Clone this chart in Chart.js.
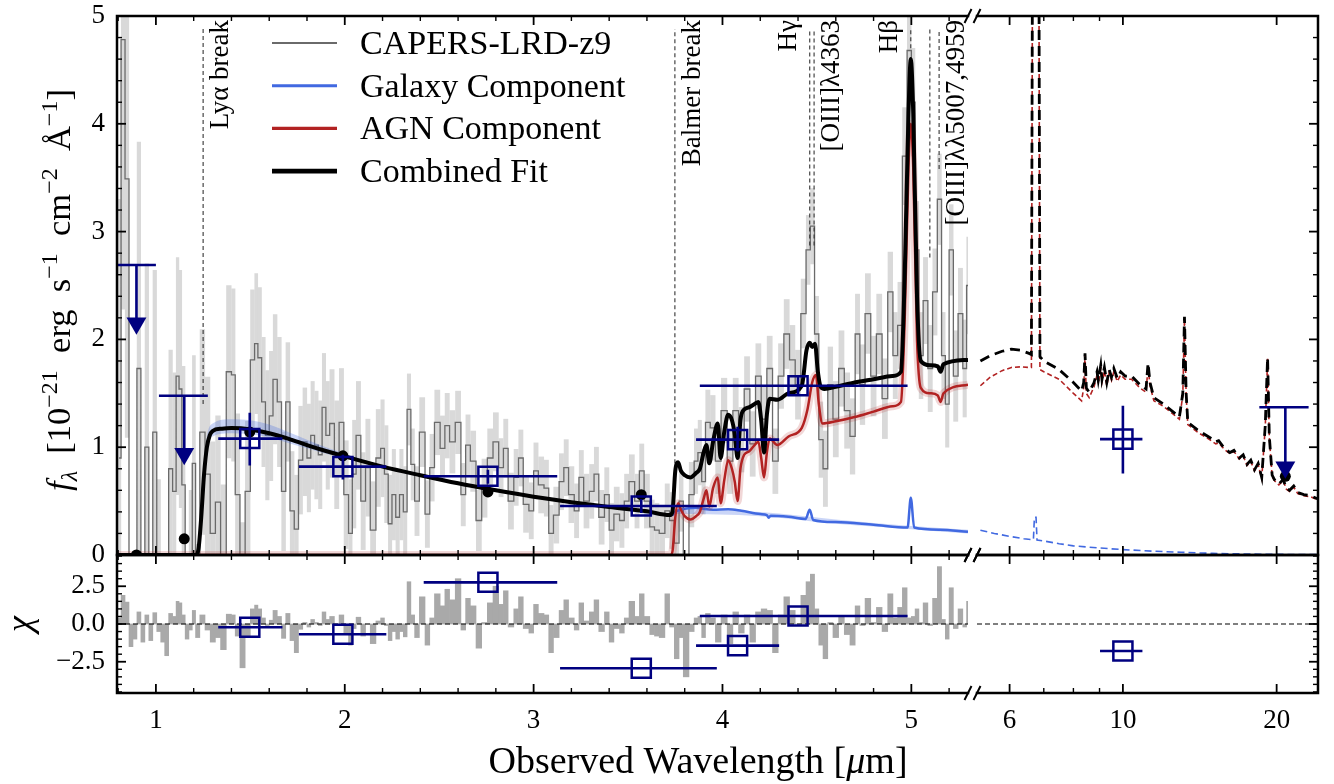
<!DOCTYPE html>
<html>
<head>
<meta charset="utf-8">
<script src="https://cdn.jsdelivr.net/npm/chart.js@4.4.1/dist/chart.umd.min.js"></script>
<style>
  html, body { margin: 0; padding: 0; background: #fff; }
  #wrap { position: relative; width: 1334px; height: 784px; }
  #wrap canvas { position: absolute; left: 0; top: 0; }
</style>
</head>
<body>
<div id="wrap">
  <canvas id="specTop" width="1334" height="784"></canvas>
  <canvas id="miriTop" width="1334" height="784"></canvas>
  <canvas id="specRes" width="1334" height="784"></canvas>
  <canvas id="miriRes" width="1334" height="784"></canvas>
</div>
<script>
// ---- prism spectrum (um, 1e-21 erg/s/cm2/A) ----
const specLam = [
  0.805, 0.826, 0.847, 0.868, 0.889, 0.910, 0.931, 0.952, 0.973, 0.994,
  1.015, 1.036, 1.057, 1.078, 1.099, 1.115, 1.130, 1.145, 1.165, 1.185,
  1.200, 1.220, 1.245, 1.275, 1.300, 1.330, 1.355, 1.390, 1.410, 1.430,
  1.460, 1.485, 1.515, 1.530, 1.550, 1.570, 1.590, 1.610, 1.630, 1.655,
  1.675, 1.700, 1.720, 1.745, 1.765, 1.790, 1.810, 1.830, 1.850, 1.870,
  1.890, 1.910, 1.930, 1.960, 1.980, 2.010, 2.030, 2.050, 2.070, 2.100,
  2.120, 2.150, 2.180, 2.200, 2.220, 2.240, 2.260, 2.280, 2.300, 2.320,
  2.340, 2.360, 2.380, 2.410, 2.440, 2.460, 2.490, 2.520, 2.540, 2.570,
  2.600, 2.630, 2.650, 2.680, 2.710, 2.740, 2.770, 2.800, 2.830, 2.850,
  2.880, 2.910, 2.930, 2.960, 2.990, 3.010, 3.040, 3.070, 3.090, 3.120,
  3.150, 3.170, 3.200, 3.230, 3.250, 3.280, 3.310, 3.330, 3.360, 3.390,
  3.410, 3.440, 3.470, 3.490, 3.520, 3.550, 3.570, 3.600, 3.630, 3.650,
  3.680, 3.710, 3.730, 3.760, 3.780, 3.805, 3.840, 3.860, 3.880, 3.900,
  3.920, 3.950, 3.975, 4.010, 4.040, 4.070, 4.100, 4.130, 4.160, 4.190,
  4.220, 4.250, 4.280, 4.310, 4.340, 4.370, 4.400, 4.430, 4.455, 4.475,
  4.500, 4.520, 4.545, 4.570, 4.600, 4.630, 4.660, 4.690, 4.715, 4.740,
  4.770, 4.800, 4.830, 4.860, 4.890, 4.915, 4.940, 4.965, 4.990, 5.010,
  5.030, 5.050, 5.075, 5.100, 5.125, 5.150, 5.170, 5.190, 5.210, 5.235,
  5.260, 5.285, 5.300
];
const specFlux = [
  0.90, 4.78, 3.49, -3.00, -1.80, 1.73, -2.20, 1.00, -1.70, 1.14,
  -0.60, -1.50, -2.50, 0.80, 0.59, 1.66, 1.54, 0.65, -1.10, -0.40,
  0.85, -0.90, 1.14, 0.75, 0.20, 0.49, -0.10, 1.70, 1.67, 0.56,
  -0.40, 0.59, 1.81, 1.96, 1.83, 1.42, 1.11, 1.29, 1.63, 1.42,
  0.59, 1.42, 0.41, 0.24, 0.88, 1.05, 0.90, 1.11, 1.02, 0.93,
  1.37, 1.11, 1.22, 0.93, 1.23, 0.56, 0.20, 0.75, 1.11, 0.50,
  0.81, 0.23, 0.90, 0.99, 0.75, 0.29, 0.56, 0.35, 0.56, 0.40,
  1.35, 0.84, 0.50, 1.14, 0.38, 0.81, 1.23, 0.99, 1.20, 1.05,
  1.23, 0.56, 1.02, 0.87, 0.32, 0.62, 0.90, 1.05, 0.81, 0.99,
  0.50, 0.72, 0.90, 0.47, 0.41, 0.78, 0.65, 0.62, 0.20, 0.37,
  0.68, 0.81, 0.56, 0.41, 0.72, 0.50, 0.59, 0.75, 0.35, 0.56,
  0.23, 0.38, 0.32, 0.50, 0.68, 0.50, 0.78, 0.50, 0.26, 0.23,
  0.20, 0.41, 0.32, 0.11, 0.50, -0.30, 0.56, 0.87, 0.95, 0.68,
  1.23, 1.18, 0.87, 1.34, 0.87, 1.34, 1.07, 1.54, 1.03, 1.66,
  1.26, 1.73, 0.87, 1.66, 2.05, 1.81, 1.58, 2.24, 2.83, 3.05,
  2.05, 1.07, 0.80, 1.58, 1.26, 1.73, 1.34, 1.10, 2.05, 1.58,
  2.24, 1.66, 2.05, 1.45, 2.44, 1.85, 2.13, 3.70, 4.68, 4.20,
  2.83, 1.85, 2.36, 1.73, 2.44, 3.30, 1.85, 1.40, 2.83, 1.66,
  2.24, 1.73, 2.50
];
const specErr = [
  2.4, 2.5, 2.4, 2.0, 1.8, 2.1, 1.8, 1.7, 1.5, 1.5,
  1.3, 1.3, 1.2, 1.1, 1.1, 1.1, 1.1, 1.1, 1.1, 1.0,
  1.0, 1.0, 0.95, 0.9, 0.85, 0.8, 0.75, 0.8, 0.8, 0.75,
  0.7, 0.65, 0.65, 0.65, 0.65, 0.6, 0.6, 0.6, 0.6, 0.6,
  0.55, 0.55, 0.55, 0.5, 0.5, 0.5, 0.5, 0.5, 0.5, 0.5,
  0.5, 0.5, 0.5, 0.5, 0.5, 0.5, 0.5, 0.5, 0.5, 0.45,
  0.45, 0.45, 0.45, 0.45, 0.45, 0.45, 0.42, 0.42, 0.42, 0.42,
  0.33, 0.33, 0.32, 0.32, 0.31, 0.31, 0.30, 0.30, 0.30, 0.29,
  0.29, 0.29, 0.28, 0.28, 0.28, 0.27, 0.27, 0.27, 0.27, 0.27,
  0.26, 0.26, 0.26, 0.26, 0.26, 0.26, 0.26, 0.26, 0.26, 0.26,
  0.26, 0.26, 0.26, 0.25, 0.25, 0.25, 0.25, 0.25, 0.25, 0.25,
  0.25, 0.25, 0.25, 0.25, 0.25, 0.25, 0.25, 0.25, 0.25, 0.25,
  0.25, 0.25, 0.26, 0.28, 0.28, 0.30, 0.30, 0.30, 0.30, 0.30,
  0.30, 0.30, 0.30, 0.30, 0.30, 0.30, 0.30, 0.30, 0.30, 0.30,
  0.30, 0.30, 0.30, 0.30, 0.32, 0.32, 0.32, 0.32, 0.32, 0.35,
  0.35, 0.35, 0.35, 0.35, 0.35, 0.35, 0.35, 0.35, 0.37, 0.37,
  0.37, 0.37, 0.37, 0.37, 0.37, 0.40, 0.40, 0.45, 0.50, 0.50,
  0.45, 0.40, 0.40, 0.40, 0.40, 0.42, 0.40, 0.40, 0.42, 0.42,
  0.42, 0.45, 0.45
];
const specChi = [
  0.4, 1.9, 1.45, -1.5, -1.0, 0.8, -1.2, 0.6, -1.1, 0.75,
  -0.5, -1.2, -2.1, 0.7, 0.5, 1.5, 1.4, 0.6, -1.0, -0.4,
  0.9, -0.9, 0.6, -0.4, -1.2, -0.9, -1.7, 0.65, 0.6, -0.8,
  -2.9, -0.9, 1.0, 1.25, 1.0, 0.4, -0.1, 0.25, 0.9, 0.5,
  -0.95, 0.7, -1.1, -1.9, -0.35, 0.1, -0.2, 0.3, 0.1, -0.1,
  0.8, 0.3, 0.5, 0.0, 0.6, -0.7, -1.4, -0.3, 0.45, -0.8,
  0.0, -1.3, 0.2, 0.4, -0.1, -1.1, -0.5, -1.0, -0.5, -0.85,
  2.8, 0.6, -0.9, 1.8, -1.4, 0.4, 2.0, 1.2, 2.3, 1.6,
  3.0, -0.4, 1.7, 1.2, -1.6, 0.1, 1.4, 2.5, 1.3, 2.2,
  -0.2, 1.0, 1.8, -0.3, -0.6, 1.3, 0.7, 0.6, -1.9, -0.9,
  0.9, 1.6, 0.4, -0.4, 1.4, 0.2, 0.8, 1.6, -0.5, 0.8,
  -1.2, -0.3, -0.6, 0.4, 1.5, 0.5, 2.0, 0.5, -0.7, -0.8,
  -0.9, 2.0, -0.2, -2.3, -0.9, -3.5, -0.5, 0.4, 0.5, -0.9,
  0.7, 0.4, -1.2, 0.6, -1.3, 0.8, -0.6, 0.6, -1.2, 0.8,
  1.0, 0.9, -1.9, 0.6, 1.8, 0.9, 0.0, 1.9, 2.8, 3.3,
  1.0, -1.4, -2.3, 0.1, -0.9, 0.5, -0.7, -1.4, 1.2, -0.1,
  1.7, 0.1, 1.1, -0.5, 2.0, 0.4, 1.1, 2.4, 0.4, 0.5,
  1.0, 0.1, 1.4, -0.1, 1.7, 3.8, 0.3, -1.0, 2.4, -0.3,
  1.0, -0.2, 1.5
];

// ---- SED model components on the prism range ----
const galLam = [0.794, 1.21, 1.225, 1.24, 1.255, 1.27, 1.285, 1.30, 1.35, 1.40, 1.45, 1.50, 1.60, 1.70, 1.80, 1.90,
  2.00, 2.20, 2.40, 2.60, 2.80, 3.00, 3.20, 3.40, 3.60, 3.72, 3.735, 3.75, 3.80, 3.86, 3.95, 4.03, 4.10, 4.20,
  4.235, 4.245, 4.255, 4.35, 4.44, 4.462, 4.48, 4.60, 4.80, 4.98, 4.997, 5.015, 5.15, 5.30];
const galFlux = [0, 0, 0.05, 0.35, 0.75, 1.0, 1.11, 1.15, 1.172, 1.178, 1.176, 1.165, 1.13, 1.08, 1.02, 0.965,
  0.915, 0.82, 0.74, 0.665, 0.60, 0.54, 0.49, 0.445, 0.405, 0.37, 0.37, 0.40, 0.43, 0.435, 0.42, 0.425, 0.41, 0.38,
  0.37, 0.345, 0.365, 0.355, 0.335, 0.42, 0.325, 0.305, 0.28, 0.255, 0.53, 0.255, 0.235, 0.215];
const galBandLam = [1.255, 1.27, 1.30, 1.40, 1.50, 1.60, 1.70, 1.80, 1.90, 2.00, 2.20, 2.60, 3.00, 3.40, 3.72, 3.75, 4.20, 4.60, 5.00, 5.30];
const galBandHi = [0.85, 1.10, 1.22, 1.26, 1.25, 1.21, 1.14, 1.07, 1.00, 0.94, 0.835, 0.675, 0.55, 0.455, 0.38, 0.42, 0.40, 0.33, 0.27, 0.235];
const galBandLo = [0.70, 0.98, 1.10, 1.13, 1.12, 1.09, 1.04, 0.99, 0.94, 0.90, 0.805, 0.655, 0.53, 0.435, 0.36, 0.38, 0.36, 0.29, 0.24, 0.20];

const agnLam = [0.794, 3.725, 3.735, 3.75, 3.765, 3.78, 3.80, 3.83, 3.86, 3.88, 3.90, 3.915, 3.93, 3.95, 3.975, 3.99,
  4.01, 4.03, 4.05, 4.065, 4.08, 4.095, 4.115, 4.14, 4.17, 4.19, 4.205, 4.22, 4.235, 4.25, 4.29, 4.35, 4.42, 4.45,
  4.475, 4.495, 4.51, 4.53, 4.60, 4.70, 4.80, 4.90, 4.945, 4.965, 4.985, 4.997, 5.01, 5.03, 5.05, 5.10, 5.14,
  5.155, 5.17, 5.30];
const agnFlux = [0, 0, 0.03, 0.35, 0.48, 0.42, 0.36, 0.33, 0.36, 0.40, 0.52, 0.60, 0.45, 0.62, 0.72, 0.48,
  0.70, 0.88, 0.80, 0.68, 0.50, 0.80, 0.93, 0.96, 1.02, 1.05, 0.90, 0.72, 0.95, 1.08, 1.02, 1.10, 1.18, 1.35,
  1.60, 1.67, 1.40, 1.22, 1.24, 1.28, 1.33, 1.38, 1.42, 2.2, 3.6, 4.0, 3.6, 2.0, 1.55, 1.50, 1.48,
  1.42, 1.50, 1.58];

const totLam = [0.794, 1.21, 1.225, 1.24, 1.255, 1.27, 1.285, 1.30, 1.35, 1.40, 1.45, 1.50, 1.60, 1.70, 1.80, 1.90,
  2.00, 2.20, 2.40, 2.60, 2.80, 3.00, 3.20, 3.40, 3.60, 3.72, 3.735, 3.75, 3.765, 3.78, 3.80, 3.83, 3.86, 3.88,
  3.90, 3.915, 3.93, 3.95, 3.975, 3.99, 4.01, 4.03, 4.05, 4.065, 4.08, 4.095, 4.115, 4.14, 4.17, 4.19, 4.205,
  4.22, 4.235, 4.25, 4.29, 4.35, 4.42, 4.445, 4.462, 4.475, 4.49, 4.505, 4.52, 4.54, 4.60, 4.70, 4.80, 4.90,
  4.945, 4.965, 4.985, 4.997, 5.01, 5.03, 5.05, 5.10, 5.14, 5.155, 5.17, 5.30];
const totFlux = [0, 0, 0.05, 0.35, 0.75, 1.0, 1.11, 1.15, 1.172, 1.178, 1.176, 1.165, 1.13, 1.08, 1.02, 0.965,
  0.915, 0.82, 0.74, 0.665, 0.60, 0.54, 0.49, 0.445, 0.405, 0.37, 0.40, 0.78, 0.86, 0.78, 0.74, 0.72, 0.76, 0.80,
  0.95, 1.02, 0.85, 1.05, 1.22, 0.90, 1.15, 1.30, 1.25, 1.12, 0.90, 1.25, 1.35, 1.37, 1.40, 1.42, 1.25,
  0.95, 1.30, 1.45, 1.44, 1.50, 1.57, 1.90, 1.97, 1.93, 1.96, 1.70, 1.56, 1.54, 1.56, 1.60, 1.63, 1.66,
  1.70, 2.6, 4.1, 4.6, 4.1, 2.4, 1.80, 1.76, 1.75, 1.70, 1.77, 1.81];

// ---- photometry ----
const photLam = [1.497, 1.99, 2.758, 3.57, 4.08, 4.40];
const photFlux = [1.08, 0.82, 0.73, 0.455, 1.07, 1.57];
const photXlo = [1.33, 1.757, 2.418, 3.14, 3.86, 3.88];
const photXhi = [1.67, 2.22, 3.125, 3.97, 4.30, 4.98];
const photYlo = [0.83, 0.70, 0.66, 0.39, 0.96, 1.48];
const photYhi = [1.32, 0.93, 0.79, 0.52, 1.19, 1.66];
const photChi = [-0.22, -0.68, 2.76, -2.93, -1.43, 0.53];

const limLam = [0.897, 1.150];
const limFlux = [2.69, 1.477];
const limXlo = [0.795, 1.016];
const limXhi = [1.0, 1.275];
const limHead = [2.15, 0.94];

const modelPhotLam = [0.897, 1.150, 1.497, 1.99, 2.758, 3.57];
const modelPhotFlux = [0.0, 0.15, 1.14, 0.92, 0.585, 0.56];

// ---- marked features ----
const lineLam = [1.250, 3.748, 4.462, 4.485, 4.997, 5.098, 5.147];
const lineLo = [1.40, 0.85, 2.87, 2.87, 4.70, 2.76, 3.58];
const lineHi = [4.88, 4.88, 4.88, 4.88, 4.88, 4.88, 4.88];
const labelLam = [1.250, 3.748, 4.462, 4.485, 4.997, 5.147];
const labelText = ['Lyα break', 'Balmer break', 'Hγ', '[OIII]λ4363', 'Hβ', '[OIII]λλ5007,4959'];
const labelSide = [1, 1, -1, 1, -1, 1];

// ---- mid-infrared extension of the model ----
const mirLam = [5.26, 5.5, 5.8, 6.05, 6.3, 6.55, 6.62, 6.66, 6.84, 6.88, 7.0, 7.5, 8.0, 8.3, 8.38, 8.43, 8.48, 8.59,
  8.78, 8.9, 8.95, 9.05, 9.1, 9.2, 9.3, 9.4, 9.5, 9.6, 9.75, 9.9, 10.1, 10.4, 10.8, 11.1, 11.2, 11.3, 11.5, 12.0,
  12.9, 13.1, 13.2, 13.3, 13.4, 14.0, 14.9, 15.2, 15.4, 15.8, 16.2, 16.5, 16.9, 17.2, 17.5, 17.8, 18.1, 18.4,
  18.7, 19.0, 19.2, 19.35, 19.6, 19.8, 20.2, 20.6, 20.9, 21.2, 21.6, 22.0, 22.6, 23.3, 24.1];
const mirTot = [1.80, 1.85, 1.89, 1.91, 1.90, 1.87, 1.86, 6.5, 6.5, 1.84, 1.80, 1.72, 1.60, 1.52, 1.60, 1.87, 1.55, 1.51,
  1.60, 1.70, 1.62, 1.76, 1.63, 1.74, 1.60, 1.72, 1.65, 1.73, 1.64, 1.70, 1.66, 1.66, 1.58, 1.54, 1.78, 1.60, 1.46, 1.40,
  1.28, 1.50, 2.21, 1.50, 1.23, 1.16, 1.08, 1.05, 1.06, 0.99, 0.95, 0.97, 0.90, 0.93, 0.84, 0.88, 0.79, 0.85,
  0.72, 1.20, 1.83, 1.10, 0.74, 0.70, 0.66, 0.70, 0.62, 0.60, 0.64, 0.58, 0.56, 0.55, 0.52];
const mirAgn = [1.57, 1.65, 1.71, 1.74, 1.745, 1.74, 1.74, 6.3, 6.3, 1.72, 1.70, 1.63, 1.50, 1.43, 1.55, 1.85, 1.50, 1.46,
  1.56, 1.67, 1.59, 1.73, 1.60, 1.71, 1.57, 1.69, 1.62, 1.70, 1.61, 1.67, 1.63, 1.63, 1.55, 1.51, 1.75, 1.57, 1.43, 1.38,
  1.26, 1.48, 2.19, 1.48, 1.21, 1.14, 1.06, 1.03, 1.04, 0.98, 0.94, 0.96, 0.89, 0.92, 0.83, 0.87, 0.78, 0.84,
  0.71, 1.19, 1.82, 1.09, 0.73, 0.69, 0.65, 0.69, 0.61, 0.59, 0.63, 0.57, 0.55, 0.54, 0.51];
const mirGalLam = [5.26, 5.6, 6.05, 6.4, 6.68, 6.71, 6.76, 6.79, 7.0, 7.5, 8.0, 9.0, 10.0, 11.5, 13.0, 15.0, 17.5, 20.0, 24.1];
const mirGal = [0.23, 0.20, 0.17, 0.15, 0.142, 0.35, 0.35, 0.138, 0.13, 0.105, 0.085, 0.065, 0.05, 0.035, 0.025, 0.015, 0.009, 0.006, 0.003];

const miriLam = [10.0];
const miriFlux = [1.075];
const miriXlo = [9.02];
const miriXhi = [10.92];
const miriYlo = [0.755];
const miriYhi = [1.385];
const miriChi = [-1.79];
const miriLimLam = [20.8];
const miriLimFlux = [1.37];
const miriLimXlo = [18.5];
const miriLimXhi = [23.1];
const miriLimHead = [0.815];
const miriModelLam = [20.8];
const miriModelFlux = [0.73];

// ---- axes ----
const fluxTicks = [0, 1, 2, 3, 4, 5];
const fluxMinor = [0.2, 0.4, 0.6, 0.8, 1.2, 1.4, 1.6, 1.8, 2.2, 2.4, 2.6, 2.8, 3.2, 3.4, 3.6, 3.8, 4.2, 4.4, 4.6, 4.8];
const chiTicks = [-2.5, 0, 2.5];
const chiMinor = [-4.5, -4, -3.5, -3, -2, -1.5, -1, -0.5, 0.5, 1, 1.5, 2, 3, 3.5, 4, 4.5];
const waveTicks = [1, 2, 3, 4, 5];
const waveMinor = [0.8, 1.2, 1.4, 1.6, 1.8, 2.2, 2.4, 2.6, 2.8, 3.2, 3.4, 3.6, 3.8, 4.2, 4.4, 4.6, 4.8, 5.2];
const miriTicks = [6, 10, 20];
const miriMinor = [7, 8, 9];
const legendLabels = ['CAPERS-LRD-z9', 'Galaxy Component', 'AGN Component', 'Combined Fit'];

const SERIF = "'Liberation Serif', 'DejaVu Serif', serif";
const W = 1334, H = 784;
const PX = { left: 117, midL: 968, midR: 977, right: 1322, top: 7, split: 555, bottom: 693 };
const NAVY = '#000080', BLUE = '#4169e1', RED = '#b22222';

Chart.defaults.font.family = SERIF;
Chart.defaults.color = '#000';

const pts = (xs, ys) => xs.map((x, i) => ({ x, y: ys[i] }));

// horizontal and vertical error bars as one broken polyline
function errSegs(xs, ys, xlo, xhi, ylo, yhi) {
  const out = [];
  xs.forEach((x, i) => {
    out.push({ x: xlo[i], y: ys[i] }, { x: xhi[i], y: ys[i] }, { x, y: null });
    if (ylo) out.push({ x, y: ylo[i] }, { x, y: yhi[i] }, { x, y: null });
  });
  return out;
}

function rich(ctx, parts, x, y, size, angle) {
  const font = p => `${p.it ? 'italic ' : ''}${p.sup || p.sub ? Math.round(size * 0.7) : size}px ${SERIF}`;
  let w = 0;
  parts.forEach(p => { ctx.font = font(p); w += ctx.measureText(p.t).width; });
  ctx.save();
  ctx.translate(x, y);
  ctx.rotate(angle);
  ctx.fillStyle = '#000';
  ctx.textAlign = 'left';
  ctx.textBaseline = 'alphabetic';
  let cx = -w / 2;
  parts.forEach(p => {
    ctx.font = font(p);
    const dy = p.sup ? -size * 0.4 : p.sub ? size * 0.18 : 0;
    ctx.fillText(p.t, cx, dy + size * 0.3);
    cx += ctx.measureText(p.t).width;
  });
  ctx.restore();
}

// spines, inward ticks and axis-break marks
const frame = {
  id: 'frame',
  afterDatasetsDraw(chart, args, o) {
    const { ctx, chartArea: a } = chart;
    const xs = chart.scales.x, ys = chart.scales.y;
    const seg = (x1, y1, x2, y2) => { ctx.beginPath(); ctx.moveTo(x1, y1); ctx.lineTo(x2, y2); ctx.stroke(); };
    ctx.save();
    ctx.strokeStyle = '#000';
    [[o.xMajor, 9, 1.8], [o.xMinor, 5, 1.4]].forEach(([vals, len, lw]) => {
      ctx.lineWidth = lw;
      vals.forEach(v => {
        const p = xs.getPixelForValue(v);
        if (p < a.left + 1 || p > a.right - 1) return;
        seg(p, a.bottom, p, a.bottom - len);
        seg(p, a.top, p, a.top + len);
      });
    });
    [[o.yMajor, 9, 1.8], [o.yMinor, 5, 1.4]].forEach(([vals, len, lw]) => {
      ctx.lineWidth = lw;
      vals.forEach(v => {
        const p = ys.getPixelForValue(v);
        if (p < a.top + 1 || p > a.bottom - 1) return;
        if (o.left) seg(a.left, p, a.left + len, p);
        if (o.right) seg(a.right, p, a.right - len, p);
      });
    });
    ctx.lineWidth = 2.5;
    ctx.lineCap = 'square';
    ctx.beginPath();
    ctx.moveTo(a.left, a.top); ctx.lineTo(a.right, a.top);
    ctx.moveTo(a.left, a.bottom); ctx.lineTo(a.right, a.bottom);
    if (o.left) { ctx.moveTo(a.left, a.top); ctx.lineTo(a.left, a.bottom); }
    if (o.right) { ctx.moveTo(a.right, a.top); ctx.lineTo(a.right, a.bottom); }
    ctx.stroke();
    ctx.lineCap = 'butt';
    ctx.lineWidth = 2;
    const bx = o.left ? a.right : a.left;
    [a.top, a.bottom].forEach(y => seg(bx - 3.5, y + 7, bx + 3.5, y - 7));
    ctx.restore();
  }
};

const legendBox = {
  id: 'legendBox',
  afterDraw(chart) {
    const ctx = chart.ctx;
    ctx.save();
    legendLabels.forEach((label, i) => {
      const ds = chart.data.datasets.find(d => d.label === label);
      const y = 43 + i * 42.7;
      ctx.strokeStyle = ds.borderColor;
      ctx.lineWidth = ds.borderWidth + 0.6;
      ctx.beginPath(); ctx.moveTo(272, y); ctx.lineTo(337, y); ctx.stroke();
      ctx.font = `34px ${SERIF}`;
      ctx.fillStyle = '#000';
      ctx.textBaseline = 'alphabetic';
      ctx.fillText(label, 360, y + 11);
    });
    ctx.restore();
  }
};

const featureLabels = {
  id: 'featureLabels',
  afterDatasetsDraw(chart) {
    const { ctx } = chart;
    const xs = chart.scales.x;
    ctx.save();
    ctx.font = `27px ${SERIF}`;
    ctx.fillStyle = '#000';
    ctx.textAlign = 'right';
    ctx.textBaseline = 'middle';
    labelText.forEach((t, i) => {
      const px = xs.getPixelForValue(labelLam[i]) + labelSide[i] * (labelSide[i] > 0 ? 18 : 21);
      ctx.save();
      ctx.translate(px, 20);
      ctx.rotate(-Math.PI / 2);
      ctx.fillText(t, 0, 0);
      ctx.restore();
    });
    ctx.restore();
  }
};

const fluxTitle = {
  id: 'fluxTitle',
  afterDraw(chart) {
    rich(chart.ctx, [
      { t: 'f', it: true }, { t: 'λ', sub: true, it: true }, { t: '  [10' }, { t: '−21', sup: true },
      { t: '  erg  s' }, { t: '−1', sup: true }, { t: '  cm' }, { t: '−2', sup: true },
      { t: '  Å' }, { t: '−1', sup: true }, { t: ']' }
    ], 60, 290, 34.5, -Math.PI / 2);
  }
};

const residTitles = {
  id: 'residTitles',
  afterDraw(chart) {
    rich(chart.ctx, [{ t: 'χ', it: true }], 20, 624, 36, -Math.PI / 2);
    rich(chart.ctx, [{ t: 'Observed Wavelength [' }, { t: 'μ', it: true }, { t: 'm]' }], 698, 762, 38, 0);
  }
};

const tickFont = { size: 27, family: SERIF };
const noAxis = (type, min, max) => ({ type, min, max, display: false, offset: false });
// fixed-size axis; label overhang is zeroed so the plot area stays where the padding puts it
const tickAxis = (type, min, max, values, fmt, fit) => ({
  type, min, max, offset: false,
  grid: { display: false, drawTicks: false },
  border: { display: false },
  ticks: { font: tickFont, color: '#000', padding: 12, autoSkip: false, maxRotation: 0, callback: v => fmt(v) },
  afterBuildTicks: s => { s.ticks = values.map(value => ({ value })); },
  afterFit: s => {
    fit(s);
    s.paddingTop = 0; s.paddingBottom = 0; s.paddingLeft = 0; s.paddingRight = 0;
  }
});
const fitY = s => { s.width = PX.left; };
const fitX = s => { s.height = H - PX.bottom; };
const fmtChi = v => v.toFixed(1).replace('-', '−');

function options(padding, x, y, frameOpts) {
  return {
    responsive: false, maintainAspectRatio: false, animation: false, events: [],
    layout: { padding },
    elements: { point: { radius: 0 }, line: { tension: 0 } },
    plugins: { legend: { display: false }, tooltip: { enabled: false }, frame: frameOpts },
    scales: { x, y }
  };
}

const lineDs = (label, data, color, width, order, extra) => Object.assign({
  label, data, borderColor: color, borderWidth: width, order, pointRadius: 0, fill: false
}, extra || {});
const squares = (data, order) => ({
  data, showLine: false, order, pointStyle: 'rect', pointRadius: 13.5, pointBorderWidth: 2.5,
  pointBorderColor: NAVY, pointBackgroundColor: 'rgba(0,0,0,0)'
});
const dots = (data, order) => ({
  data, showLine: false, order, pointStyle: 'circle', pointRadius: 5.5, pointBorderWidth: 0,
  pointBackgroundColor: '#000'
});
const heads = (data, order) => ({
  data, showLine: false, order, pointStyle: 'triangle', pointRadius: 11.5, pointRotation: 180,
  pointBorderWidth: 0, pointBackgroundColor: NAVY
});

const vlineSegs = [];
lineLam.forEach((x, i) => vlineSegs.push({ x, y: lineLo[i] }, { x, y: lineHi[i] }, { x, y: null }));

const xLeft = [0.794, 5.30];
const xRight = [5.18, 24.1];
const chiRange = [-4.57, 4.57];

// top left: prism spectrum with the fit
new Chart(document.getElementById('specTop'), {
  type: 'line',
  data: {
    datasets: [
      squares(pts(photLam, photFlux), 0),
      lineDs('', errSegs(photLam, photFlux, photXlo, photXhi, photYlo, photYhi), NAVY, 2.6, 1),
      lineDs('', errSegs(limLam, limFlux, limXlo, limXhi, limFlux, limHead), NAVY, 2.6, 1),
      heads(pts(limLam, limHead), 1),
      dots(pts(modelPhotLam, modelPhotFlux), 2),
      lineDs('Combined Fit', pts(totLam, totFlux), '#000', 4, 3, { cubicInterpolationMode: 'monotone' }),
      lineDs('AGN Component', pts(agnLam, agnFlux), RED, 2.5, 4, { cubicInterpolationMode: 'monotone' }),
      lineDs('', pts(agnLam, agnFlux), 'rgba(178,34,34,0.18)', 8, 5, { cubicInterpolationMode: 'monotone' }),
      lineDs('Galaxy Component', pts(galLam, galFlux), BLUE, 2.5, 6, { cubicInterpolationMode: 'monotone' }),
      lineDs('', pts(galBandLam, galBandHi), 'rgba(0,0,0,0)', 0, 7,
        { cubicInterpolationMode: 'monotone', fill: '+1', backgroundColor: 'rgba(65,105,225,0.28)' }),
      lineDs('', pts(galBandLam, galBandLo), 'rgba(0,0,0,0)', 0, 7, { cubicInterpolationMode: 'monotone' }),
      lineDs('', vlineSegs, '#333', 1.1, 8, { borderDash: [4, 3] }),
      lineDs('CAPERS-LRD-z9', pts(specLam, specFlux), '#6a6a6a', 1.3, 9, { stepped: 'middle' }),
      {
        type: 'bar', data: specLam.map((x, i) => ({ x, y: [specFlux[i] - specErr[i], specFlux[i] + specErr[i]] })),
        backgroundColor: '#d9d9d9', borderWidth: 0, order: 10,
        barThickness: 'flex', barPercentage: 0.9, categoryPercentage: 1
      }
    ]
  },
  options: options(
    { left: 0, right: W - PX.midL, top: PX.top, bottom: H - PX.split },
    noAxis('linear', xLeft[0], xLeft[1]),
    tickAxis('linear', 0, 5, fluxTicks, v => String(v), fitY),
    { left: true, right: false, xMajor: waveTicks, xMinor: waveMinor, yMajor: fluxTicks, yMinor: fluxMinor }
  ),
  plugins: [frame, legendBox, featureLabels, fluxTitle]
});

// top right: mid-infrared model and MIRI points
new Chart(document.getElementById('miriTop'), {
  type: 'line',
  data: {
    datasets: [
      squares(pts(miriLam, miriFlux), 0),
      lineDs('', errSegs(miriLam, miriFlux, miriXlo, miriXhi, miriYlo, miriYhi), NAVY, 2.6, 1),
      lineDs('', errSegs(miriLimLam, miriLimFlux, miriLimXlo, miriLimXhi, miriLimFlux, miriLimHead), NAVY, 2.6, 1),
      heads(pts(miriLimLam, miriLimHead), 1),
      dots(pts(miriModelLam, miriModelFlux), 2),
      lineDs('', pts(mirLam, mirTot), '#000', 2.8, 3, { borderDash: [10, 6] }),
      lineDs('', pts(mirLam, mirAgn), RED, 1.6, 4, { borderDash: [5, 3] }),
      lineDs('', pts(mirGalLam, mirGal), BLUE, 1.6, 5, { borderDash: [7, 4] })
    ]
  },
  options: options(
    { left: PX.midR, right: W - PX.right, top: PX.top, bottom: H - PX.split },
    noAxis('logarithmic', xRight[0], xRight[1]),
    noAxis('linear', 0, 5),
    { left: false, right: true, xMajor: miriTicks, xMinor: miriMinor, yMajor: fluxTicks, yMinor: fluxMinor }
  ),
  plugins: [frame]
});

// bottom left: residuals on the prism range
new Chart(document.getElementById('specRes'), {
  type: 'line',
  data: {
    datasets: [
      squares(pts(photLam, photChi), 0),
      lineDs('', errSegs(photLam, photChi, photXlo, photXhi), NAVY, 2.6, 1),
      lineDs('', pts(xLeft, [0, 0]), '#000', 1.2, 2, { borderDash: [5, 3] }),
      {
        type: 'bar', data: pts(specLam, specChi), backgroundColor: '#a9a9a9', borderWidth: 0, order: 3,
        barThickness: 'flex', barPercentage: 1, categoryPercentage: 1
      }
    ]
  },
  options: options(
    { left: 0, right: W - PX.midL, top: PX.split, bottom: 0 },
    tickAxis('linear', xLeft[0], xLeft[1], waveTicks, v => String(v), fitX),
    tickAxis('linear', chiRange[0], chiRange[1], chiTicks, fmtChi, fitY),
    { left: true, right: false, xMajor: waveTicks, xMinor: waveMinor, yMajor: chiTicks, yMinor: chiMinor }
  ),
  plugins: [frame, residTitles]
});

// bottom right: MIRI residual
new Chart(document.getElementById('miriRes'), {
  type: 'line',
  data: {
    datasets: [
      squares(pts(miriLam, miriChi), 0),
      lineDs('', errSegs(miriLam, miriChi, miriXlo, miriXhi), NAVY, 2.6, 1),
      lineDs('', pts(xRight, [0, 0]), '#000', 1.2, 2, { borderDash: [5, 3] })
    ]
  },
  options: options(
    { left: PX.midR, right: W - PX.right, top: PX.split, bottom: 0 },
    tickAxis('logarithmic', xRight[0], xRight[1], miriTicks, v => String(v), fitX),
    noAxis('linear', chiRange[0], chiRange[1]),
    { left: false, right: true, xMajor: miriTicks, xMinor: miriMinor, yMajor: chiTicks, yMinor: chiMinor }
  ),
  plugins: [frame]
});
</script>
</body>
</html>
